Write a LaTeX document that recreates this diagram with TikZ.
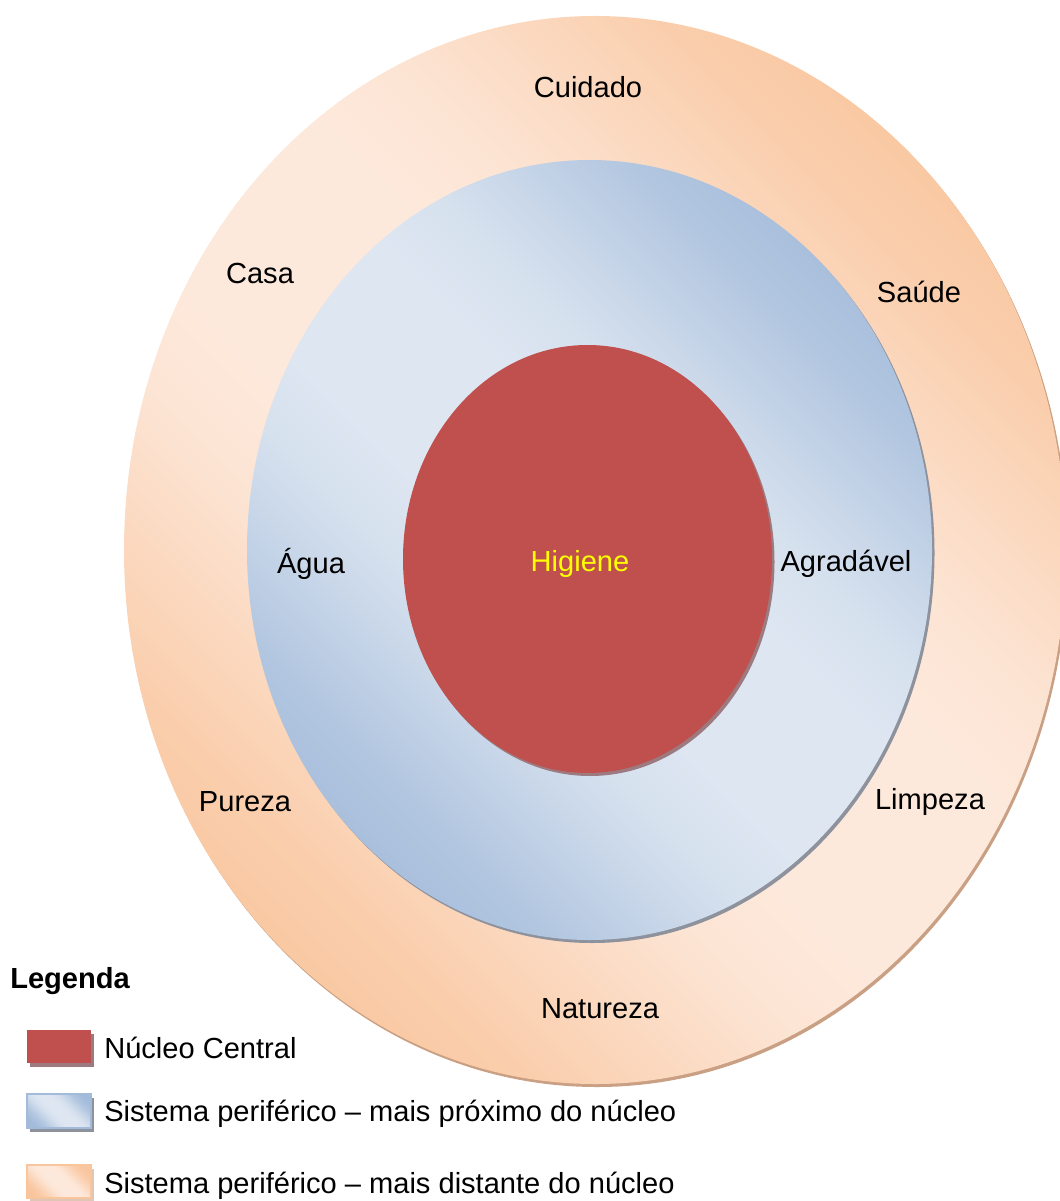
\documentclass[tikz,border=0pt]{standalone}
\usepackage{fontspec}
\setmainfont{Liberation Sans}
\definecolor{redcore}{HTML}{C0504D}
\definecolor{redshadow}{HTML}{9C7A80}
\definecolor{bluedark}{HTML}{A3BBDA}
\definecolor{bluelight}{HTML}{DDE6F1}
\definecolor{blueshadow}{HTML}{8E929C}
\definecolor{orangedark}{HTML}{F9C59D}
\definecolor{orangelight}{HTML}{FDE9DC}
\definecolor{orangeshadow}{HTML}{C9A083}
\definecolor{higienecol}{HTML}{FFFF00}
\colorlet{bluem1}{bluedark!75!bluelight}
\colorlet{bluem2}{bluedark!40!bluelight}
\colorlet{bluem3}{bluedark!12!bluelight}
\colorlet{orangem1}{orangedark!75!orangelight}
\colorlet{orangem2}{orangedark!40!orangelight}
\colorlet{orangem3}{orangedark!12!orangelight}
\pgfdeclareverticalshading{blueband}{100bp}{color(0bp)=(bluedark); color(22bp)=(bluedark); color(29bp)=(bluem1); color(35bp)=(bluem2); color(40bp)=(bluem3); color(45bp)=(bluelight); color(55bp)=(bluelight); color(60bp)=(bluem3); color(65bp)=(bluem2); color(71bp)=(bluem1); color(78bp)=(bluedark); color(100bp)=(bluedark)}
\pgfdeclareverticalshading{orangeband}{100bp}{color(0bp)=(orangedark); color(22bp)=(orangedark); color(29bp)=(orangem1); color(35bp)=(orangem2); color(40bp)=(orangem3); color(45bp)=(orangelight); color(55bp)=(orangelight); color(60bp)=(orangem3); color(65bp)=(orangem2); color(71bp)=(orangem1); color(78bp)=(orangedark); color(100bp)=(orangedark)}
\tikzset{
  lbl/.style={font=\fontsize{21.8}{26}\selectfont, inner sep=0pt},
  legtext/.style={lbl, anchor=west},
  blueshade/.style={shading=blueband, shading angle=-45},
  orangeshade/.style={shading=orangeband, shading angle=-45},
}
\begin{document}
\begin{tikzpicture}[x=0.75pt,y=-0.75pt]
\useasboundingbox (0,0) rectangle (1059,1201);
% outer ring
\fill[orangeshadow] (597,553) ellipse [x radius=471, y radius=534];
\shade[orangeshade] (595,550) ellipse [x radius=471, y radius=534];
% middle ring
\fill[blueshadow] (592,553) ellipse [x radius=342.5, y radius=390];
\shade[blueshade] (589.5,550) ellipse [x radius=342.5, y radius=390];
% core
\fill[redshadow] (590,562) ellipse [x radius=184.5, y radius=214];
\fill[redcore] (587.5,559) ellipse [x radius=184.5, y radius=214];
% labels
\node[lbl] (cuidado) at (588,87) {Cuidado};
\node[lbl] (casa) at (260,273) {Casa};
\node[lbl] (saude) at (919,292) {Saúde};
\node[lbl] (agua) at (311,564) {Água};
\node[lbl, text=higienecol] (higiene) at (580,564) {Higiene};
\node[lbl] (agradavel) at (846,564) {Agradável};
\node[lbl] (pureza) at (245,802) {Pureza};
\node[lbl] (limpeza) at (930,802) {Limpeza};
\node[lbl] (natureza) at (600,1009) {Natureza};
% legend
\node[lbl, anchor=west, font=\fontsize{21.8}{26}\selectfont\bfseries] (legenda) at (10,981) {Legenda};
\fill[redshadow] (30,1034) rectangle (94,1067);
\fill[redcore] (27,1030) rectangle (91,1063);
\fill[blueshadow] (30,1098) rectangle (94,1132);
\shade[blueshade, draw=bluedark, line width=1pt] (27,1094) rectangle (91,1128);
\fill[orangeshadow!60] (30,1169) rectangle (94,1202);
\shade[orangeshade, draw=orangedark, line width=1pt] (27,1165) rectangle (91,1198);
\node[legtext] (l1) at (104,1048) {Núcleo Central};
\node[legtext] (l2) at (104,1114) {Sistema periférico – mais próximo do núcleo};
\node[legtext] (l3) at (104,1186) {Sistema periférico – mais distante do núcleo};
\end{tikzpicture}
\end{document}
